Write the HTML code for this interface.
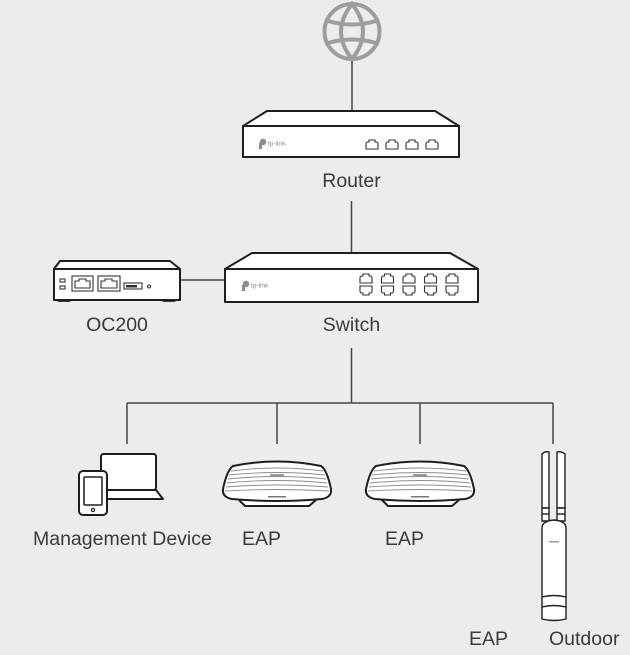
<!DOCTYPE html>
<html>
<head>
<meta charset="utf-8">
<style>
html,body{margin:0;padding:0;background:#ececec;}
svg{display:block;}
text{font-family:"Liberation Sans",Arial,sans-serif;fill:#3a3a3a;}
</style>
</head>
<body>
<svg width="630" height="655" viewBox="0 0 630 655" xmlns="http://www.w3.org/2000/svg">
<rect x="0" y="0" width="630" height="655" fill="#ececec"/>

<!-- Globe -->
<g fill="none" stroke="#9d9d9d" stroke-width="4">
  <circle cx="352" cy="31.5" r="27.5"/>
  <path d="M352,4 Q330,31.5 352,59 Q374,31.5 352,4 Z"/>
  <path d="M328,21 Q352,28 376,21"/>
  <path d="M328,43 Q352,36 376,43"/>
</g>

<!-- connectors -->
<g stroke="#454545" stroke-width="1.5" fill="none">
  <line x1="352" y1="61" x2="352" y2="111"/>
  <line x1="351.5" y1="201" x2="351.5" y2="253"/>
  <line x1="180" y1="280" x2="225" y2="280"/>
  <line x1="351.5" y1="348" x2="351.5" y2="403"/>
  <line x1="127" y1="403" x2="553" y2="403"/>
  <line x1="127" y1="403" x2="127" y2="444"/>
  <line x1="277" y1="403" x2="277" y2="444"/>
  <line x1="420" y1="403" x2="420" y2="444"/>
  <line x1="553" y1="403" x2="553" y2="444"/>
</g>

<!-- Router -->
<g stroke="#1e1e1e" stroke-width="2" fill="#fff" stroke-linejoin="round">
  <polygon points="267,111 435,111 459,126 243,126"/>
  <rect x="243" y="126" width="216" height="31"/>
</g>
<g fill="none" stroke="#333" stroke-width="1.1">
  <path d="M366,149 L366,144 Q366,142 368,142 L369,142 L369,140 L375,140 L375,142 L376,142 Q378,142 378,144 L378,149 Z"/>
  <path d="M386,149 L386,144 Q386,142 388,142 L389,142 L389,140 L395,140 L395,142 L396,142 Q398,142 398,144 L398,149 Z"/>
  <path d="M406,149 L406,144 Q406,142 408,142 L409,142 L409,140 L415,140 L415,142 L416,142 Q418,142 418,144 L418,149 Z"/>
  <path d="M426,149 L426,144 Q426,142 428,142 L429,142 L429,140 L435,140 L435,142 L436,142 Q438,142 438,144 L438,149 Z"/>
</g>
<g fill="#8a8a8a">
  <circle cx="263" cy="142" r="3.2"/>
  <rect x="259" y="143" width="3" height="6"/>
  <text x="268" y="145.5" font-size="6.5" style="fill:#8a8a8a">tp-link</text>
</g>
<text x="351.5" y="187" font-size="19.5" text-anchor="middle">Router</text>

<!-- Switch -->
<g stroke="#1e1e1e" stroke-width="2" fill="#fff" stroke-linejoin="round">
  <polygon points="252,253 450,253 478,269 225,269"/>
  <rect x="225" y="269" width="253" height="33"/>
</g>
<g fill="none" stroke="#333" stroke-width="1.1">
  <g id="sp">
    <path d="M360,283 L360,278 Q360,276 362,276 L363,276 L363,274 L369,274 L369,276 L370,276 Q372,276 372,278 L372,283 Z"/>
    <path d="M360,286 L360,291 Q360,293 362,293 L363,293 L363,295 L369,295 L369,293 L370,293 Q372,293 372,291 L372,286 Z"/>
  </g>
  <use href="#sp" x="21.5"/>
  <use href="#sp" x="43"/>
  <use href="#sp" x="64.5"/>
  <use href="#sp" x="86"/>
</g>
<g fill="#8a8a8a">
  <circle cx="246" cy="284" r="3.2"/>
  <rect x="242" y="285" width="3" height="6"/>
  <text x="251" y="287.5" font-size="6.5" style="fill:#8a8a8a">tp-link</text>
</g>
<text x="351.5" y="331" font-size="19.5" text-anchor="middle">Switch</text>

<!-- OC200 -->
<g fill="#3a3a3a">
  <rect x="57" y="298" width="14" height="4" rx="2"/>
  <rect x="162" y="298" width="14" height="4" rx="2"/>
</g>
<g stroke="#1e1e1e" stroke-width="2" fill="#fff" stroke-linejoin="round">
  <polygon points="60,261 170,261 180,269 54,269"/>
  <rect x="54" y="269" width="126" height="31"/>
</g>
<g fill="none" stroke="#333" stroke-width="1.1">
  <rect x="60" y="279" width="5" height="3"/>
  <rect x="60" y="286" width="5" height="3"/>
  <rect x="72" y="276" width="21" height="15"/>
  <path d="M75,288 L75,281 L79,281 L79,279 L86,279 L86,281 L90,281 L90,288 Z"/>
  <rect x="98" y="276" width="22" height="15"/>
  <path d="M101,288 L101,281 L105,281 L105,279 L112,279 L112,281 L117,281 L117,288 Z"/>
  <rect x="124" y="283" width="18" height="6"/>
  <circle cx="149" cy="286.5" r="1.5"/>
</g>
<rect x="126" y="285" width="11" height="2.5" fill="#333"/>
<text x="117" y="331" font-size="19.5" text-anchor="middle">OC200</text>

<!-- Management device -->
<g stroke="#1e1e1e" stroke-width="2" fill="#fff" stroke-linejoin="round">
  <rect x="101" y="454" width="55" height="36" rx="2.5"/>
  <polygon points="100,490 156,490 163,499 100,499"/>
  <rect x="79" y="471" width="28" height="44" rx="4"/>
  <rect x="84" y="477" width="18" height="28" rx="1" stroke-width="1.5"/>
</g>
<circle cx="93" cy="510" r="1.6" fill="none" stroke="#1e1e1e" stroke-width="1.2"/>
<text x="33" y="545" font-size="19.5">Management Device</text>

<!-- EAP 1 -->
<g id="eap">
  <path d="M239,500 L245,506 L309,506 L316,500" fill="#fff" stroke="#1e1e1e" stroke-width="2" stroke-linejoin="round"/>
  <path d="M233,466 Q277,457 321,466 Q327,470 331,489 Q332,497 322,499 Q277,503 232,499 Q222,497 223,489 Q227,470 233,466 Z" fill="#fff" stroke="#1e1e1e" stroke-width="2"/>
  <g stroke="#8c8c8c" stroke-width="0.9" fill="none">
    <path d="M231,471 Q277,465 323,471"/>
    <path d="M229,475 Q277,470 325,475"/>
    <path d="M228,479 Q277,474 326,479"/>
    <path d="M227,483 Q277,478 327,483"/>
    <path d="M226,487 Q277,483 328,487"/>
    <path d="M225,491 Q277,488 329,491"/>
  </g>
  <rect x="270" y="474" width="14" height="2" fill="#9a9a9a"/>
  <rect x="268" y="496" width="18" height="1.5" fill="#777"/>
</g>
<use href="#eap" x="143"/>
<text x="242" y="545" font-size="19.5">EAP</text>
<text x="385" y="545" font-size="19.5">EAP</text>

<!-- Outdoor EAP -->
<g stroke="#1e1e1e" stroke-width="1.4" fill="#fff" stroke-linejoin="round">
  <path d="M542,508 L542,454 Q545,451 549,452 L549,508 Z"/>
  <path d="M557,508 L557,452 Q561,451 565,454 L565,508 Z"/>
  <rect x="542" y="508" width="7" height="13"/>
  <rect x="557" y="508" width="8" height="13"/>
  <line x1="542" y1="514" x2="549" y2="514"/>
  <line x1="557" y1="514" x2="565" y2="514"/>
  <path d="M542,619 L542,528 Q542,521 554,520 Q566,521 566,528 L566,619 Q554,622 542,619 Z"/>
  <path d="M542,597 Q554,594 566,597" fill="none"/>
  <path d="M542,607 Q554,604 566,607" fill="none"/>
</g>
<rect x="549" y="541" width="10" height="1.5" fill="#9a9a9a"/>
<text x="469" y="645" font-size="19.5">EAP</text>
<text x="549" y="645" font-size="19.5">Outdoor</text>
</svg>
</body>
</html>
